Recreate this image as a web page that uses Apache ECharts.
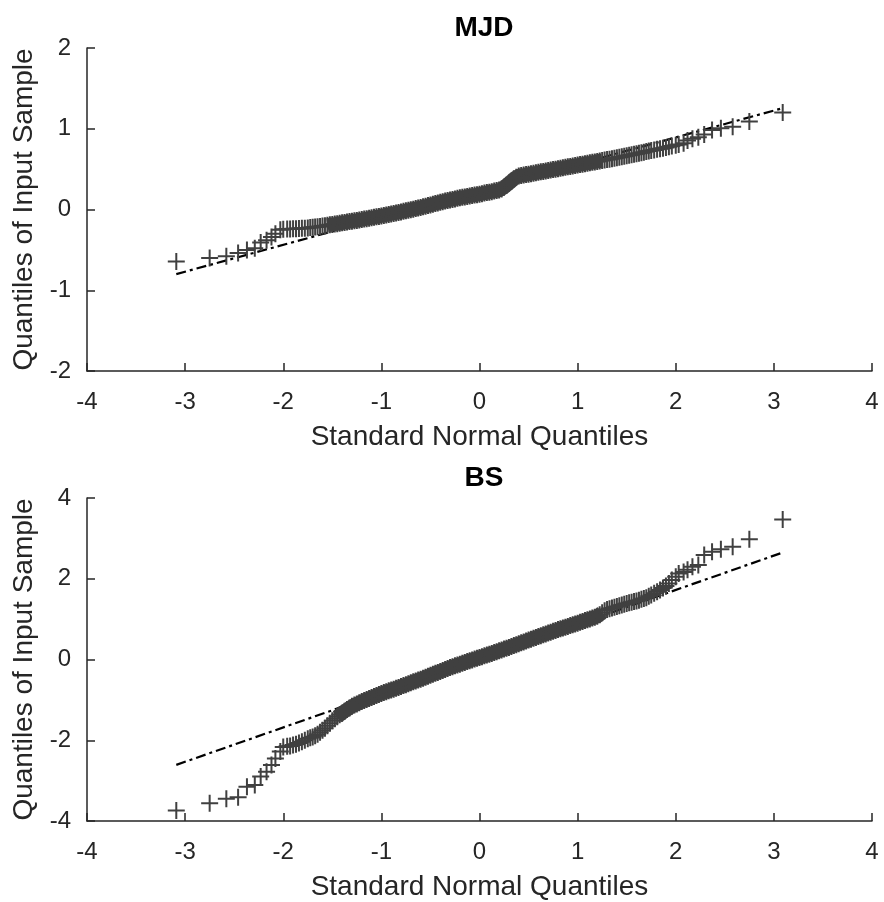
<!DOCTYPE html>
<html>
<head>
<meta charset="utf-8">
<script src="https://cdn.jsdelivr.net/npm/echarts@6/dist/echarts.min.js"></script>
<style>
  html, body { margin: 0; padding: 0; background: #fff; }
  #chart { width: 884px; height: 902px; }
</style>
</head>
<body>
<div id="chart"></div>
<script>
// theoretical normal quantiles (x) - tails and dense middle
const xLow = [-3.09,-2.75,-2.58,-2.46,-2.37,-2.29,-2.23,-2.17,-2.12,-2.08,-2.03,-2,-1.96,-1.93,-1.9,-1.87,-1.84,-1.81,-1.78];
const xMid = [
  -1.75,-1.725,-1.7,-1.675,-1.65,-1.625,-1.6,-1.575,-1.55,-1.525,
  -1.5,-1.475,-1.45,-1.425,-1.4,-1.375,-1.35,-1.325,-1.3,-1.275,
  -1.25,-1.225,-1.2,-1.175,-1.15,-1.125,-1.1,-1.075,-1.05,-1.025,
  -1,-0.975,-0.95,-0.925,-0.9,-0.875,-0.85,-0.825,-0.8,-0.775,
  -0.75,-0.725,-0.7,-0.675,-0.65,-0.625,-0.6,-0.575,-0.55,-0.525,
  -0.5,-0.475,-0.45,-0.425,-0.4,-0.375,-0.35,-0.325,-0.3,-0.275,
  -0.25,-0.225,-0.2,-0.175,-0.15,-0.125,-0.1,-0.075,-0.05,-0.025,
  0,0.025,0.05,0.075,0.1,0.125,0.15,0.175,0.2,0.225,
  0.25,0.275,0.3,0.325,0.35,0.375,0.4,0.425,0.45,0.475,
  0.5,0.525,0.55,0.575,0.6,0.625,0.65,0.675,0.7,0.725,
  0.75,0.775,0.8,0.825,0.85,0.875,0.9,0.925,0.95,0.975,
  1,1.025,1.05,1.075,1.1,1.125,1.15,1.175,1.2,1.225,
  1.25,1.275,1.3,1.325,1.35,1.375,1.4,1.425,1.45,1.475,
  1.5,1.525,1.55,1.575,1.6,1.625,1.65,1.675,1.7,1.725,
  1.75
];
const xHigh = [1.78,1.81,1.84,1.87,1.9,1.93,1.96,2,2.03,2.08,2.12,2.17,2.23,2.29,2.37,2.46,2.58,2.75,3.09];

// MJD sample quantiles
const mjdLow = [-0.645,-0.6,-0.58,-0.54,-0.5,-0.48,-0.41,-0.38,-0.34,-0.3,-0.25,-0.245,-0.243,-0.241,-0.239,-0.237,-0.235,-0.233,-0.231];
const mjdMid = [
  -0.228,-0.224,-0.22,-0.217,-0.213,-0.209,-0.205,-0.2,-0.195,-0.19,
  -0.185,-0.18,-0.175,-0.17,-0.165,-0.16,-0.155,-0.15,-0.145,-0.14,
  -0.135,-0.13,-0.125,-0.119,-0.114,-0.108,-0.102,-0.097,-0.091,-0.086,
  -0.08,-0.074,-0.067,-0.061,-0.055,-0.049,-0.042,-0.036,-0.03,-0.023,
  -0.016,-0.009,-0.002,0.004,0.011,0.018,0.025,0.033,0.041,0.049,
  0.057,0.066,0.074,0.082,0.09,0.097,0.104,0.111,0.118,0.124,
  0.131,0.138,0.145,0.151,0.156,0.162,0.168,0.173,0.179,0.184,
  0.19,0.196,0.203,0.209,0.215,0.221,0.228,0.234,0.24,0.255,
  0.275,0.3,0.325,0.35,0.38,0.4,0.415,0.421,0.426,0.432,
  0.438,0.443,0.449,0.454,0.46,0.466,0.471,0.477,0.483,0.488,
  0.494,0.499,0.505,0.511,0.516,0.522,0.528,0.533,0.539,0.544,
  0.55,0.556,0.561,0.567,0.573,0.578,0.584,0.589,0.595,0.601,
  0.606,0.612,0.618,0.623,0.629,0.634,0.64,0.646,0.653,0.659,
  0.665,0.671,0.678,0.684,0.69,0.697,0.703,0.71,0.717,0.723,
  0.73
];
const mjdHigh = [0.738,0.745,0.752,0.76,0.768,0.777,0.786,0.796,0.806,0.82,0.855,0.875,0.895,0.93,0.985,1.005,1.025,1.09,1.2];
const mjdRefLine = [[-3.09, -0.80], [3.09, 1.255]];

// BS sample quantiles
const bsLow = [-3.74,-3.56,-3.45,-3.41,-3.15,-3.11,-2.9,-2.78,-2.61,-2.45,-2.28,-2.17,-2.15,-2.14,-2.12,-2.1,-2.07,-2.04,-2.0];
const bsMid = [
  -1.96,-1.94,-1.92,-1.89,-1.85,-1.8,-1.75,-1.7,-1.64,-1.58,
  -1.52,-1.47,-1.42,-1.37,-1.33,-1.28,-1.24,-1.2,-1.16,-1.13,
  -1.1,-1.07,-1.04,-1.015,-0.99,-0.965,-0.94,-0.915,-0.89,-0.865,
  -0.84,-0.82,-0.797,-0.776,-0.755,-0.734,-0.712,-0.691,-0.67,-0.647,
  -0.623,-0.6,-0.577,-0.553,-0.53,-0.508,-0.487,-0.463,-0.439,-0.415,
  -0.391,-0.367,-0.343,-0.319,-0.295,-0.271,-0.247,-0.223,-0.2,-0.179,
  -0.157,-0.136,-0.115,-0.094,-0.072,-0.051,-0.03,-0.01,0.01,0.03,
  0.05,0.07,0.09,0.11,0.13,0.151,0.172,0.194,0.215,0.236,
  0.257,0.279,0.3,0.322,0.345,0.367,0.39,0.412,0.435,0.457,
  0.48,0.502,0.525,0.547,0.57,0.591,0.612,0.634,0.655,0.676,
  0.697,0.719,0.74,0.76,0.78,0.8,0.82,0.84,0.86,0.88,
  0.9,0.921,0.942,0.964,0.985,1.006,1.027,1.049,1.07,1.11,
  1.16,1.21,1.24,1.259,1.277,1.296,1.315,1.334,1.352,1.371,
  1.39,1.405,1.42,1.435,1.45,1.47,1.49,1.51,1.53,1.565,
  1.6
];
const bsHigh = [1.64,1.68,1.72,1.77,1.82,1.88,1.97,2.05,2.13,2.17,2.22,2.3,2.34,2.59,2.67,2.73,2.79,2.98,3.47];
const bsRefLine = [[-3.09, -2.61], [3.09, 2.65]];

const titles = ['MJD', 'BS'];
const xName = 'Standard Normal Quantiles';
const yName = 'Quantiles of Input Sample';

const xs = xLow.concat(xMid, xHigh);
const zip = (ys) => xs.map((x, i) => [x, ys[i]]);
const mjdPoints = zip(mjdLow.concat(mjdMid, mjdHigh));
const bsPoints = zip(bsLow.concat(bsMid, bsHigh));
// where the crosses pile up into a solid band
const solidFrom = (pts, a, b) => pts.filter(p => p[0] >= a && p[0] <= b);

const txt = '#262626';
const mark = '#404040';
const font = 'Liberation Sans, Arial, Helvetica, sans-serif';
const plus = 'path://M0,5L10,5M5,0L5,10';

const myChart = echarts.init(document.getElementById('chart'));

const xAxisFor = (gi) => ({
  type: 'value', gridIndex: gi, min: -4, max: 4, interval: 1,
  name: xName, nameLocation: 'middle', nameGap: 52,
  nameTextStyle: { color: txt, fontSize: 28, fontFamily: font },
  axisLine: { onZero: false, lineStyle: { color: txt, width: 1.5 } },
  axisTick: { inside: true, length: 8, lineStyle: { color: txt, width: 1.5 } },
  axisLabel: { color: txt, fontSize: 24, fontFamily: font, margin: 19 },
  splitLine: { show: false }
});
const yAxisFor = (gi, lo, hi, step) => ({
  type: 'value', gridIndex: gi, min: lo, max: hi, interval: step,
  name: yName, nameLocation: 'middle', nameGap: 46,
  nameTextStyle: { color: txt, fontSize: 28, fontFamily: font },
  axisLine: { onZero: false, lineStyle: { color: txt, width: 1.5 } },
  axisTick: { inside: true, length: 8, lineStyle: { color: txt, width: 1.5 } },
  axisLabel: { color: txt, fontSize: 24, fontFamily: font, margin: 16 },
  splitLine: { show: false }
});
const pointsSeries = (gi, data) => ({
  type: 'scatter', xAxisIndex: gi, yAxisIndex: gi, data: data,
  symbol: plus, symbolSize: 17,
  itemStyle: { color: 'transparent', borderColor: mark, borderWidth: 2, opacity: 1 },
  silent: true, z: 3
});
const bandSeries = (gi, data) => ({
  type: 'line', xAxisIndex: gi, yAxisIndex: gi, data: data,
  symbol: 'none', lineStyle: { color: mark, width: 14, cap: 'butt', join: 'round' },
  silent: true, z: 2
});
const refSeries = (gi, data) => ({
  type: 'line', xAxisIndex: gi, yAxisIndex: gi, data: data,
  symbol: 'none', lineStyle: { color: '#000', width: 2.2, type: [10, 4, 3, 4] },
  silent: true, z: 1
});

const option = {
  animation: false,
  backgroundColor: '#fff',
  title: [
    { text: titles[0], left: 479, top: 9, textAlign: 'center',
      textStyle: { color: '#000', fontSize: 28, fontWeight: 'bold', fontFamily: font } },
    { text: titles[1], left: 479, top: 459, textAlign: 'center',
      textStyle: { color: '#000', fontSize: 28, fontWeight: 'bold', fontFamily: font } }
  ],
  grid: [
    { left: 87, top: 48, width: 785, height: 323 },
    { left: 87, top: 498, width: 785, height: 323 }
  ],
  xAxis: [xAxisFor(0), xAxisFor(1)],
  yAxis: [yAxisFor(0, -2, 2, 1), yAxisFor(1, -4, 4, 2)],
  series: [
    refSeries(0, mjdRefLine),
    bandSeries(0, solidFrom(mjdPoints, -1.55, 1.25)),
    pointsSeries(0, mjdPoints),
    refSeries(1, bsRefLine),
    bandSeries(1, solidFrom(bsPoints, -1.45, 1.25)),
    pointsSeries(1, bsPoints)
  ]
};
myChart.setOption(option);
</script>
</body>
</html>
